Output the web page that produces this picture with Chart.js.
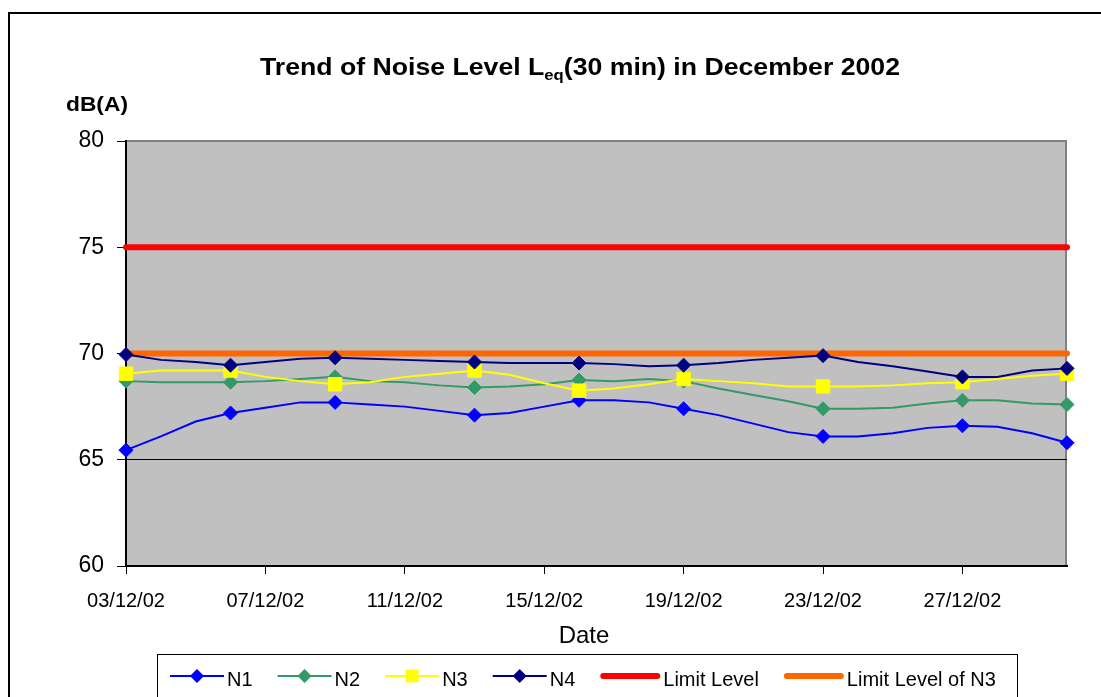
<!DOCTYPE html>
<html>
<head>
<meta charset="utf-8">
<title>Trend of Noise Level</title>
<script src="https://cdn.jsdelivr.net/npm/chart.js@4.4.0/dist/chart.umd.min.js"></script>
<style>
    html, body { margin: 0; padding: 0; background: #fff; }
    #wrap { width: 1101px; height: 697px; }
</style>
</head>
<body>
<div id="wrap"><canvas id="noise-chart" width="1101" height="697"></canvas></div>
<script>
// Day of December 2002 for each reading
var days = [3, 4, 5, 6, 7, 8, 9, 10, 11, 12, 13, 14, 15, 16, 17, 18, 19, 20, 21, 22, 23, 24, 25, 26, 27, 28, 29, 30];
// days that carry a marker, and days that get a tick label
var markerDays = [3, 6, 9, 13, 16, 19, 23, 27, 30];
var tickDays = [3, 7, 11, 15, 19, 23, 27];

// Leq(30 min), dB(A)
var n1 = [65.45, 66.1, 66.8, 67.2, 67.45, 67.7, 67.7, 67.6, 67.5, 67.3, 67.1, 67.2, 67.5, 67.8, 67.8, 67.7, 67.4, 67.1, 66.7, 66.3, 66.1, 66.1, 66.25, 66.5, 66.6, 66.55, 66.25, 65.8];
var n2 = [68.7, 68.65, 68.65, 68.65, 68.7, 68.8, 68.9, 68.7, 68.65, 68.5, 68.4, 68.45, 68.55, 68.75, 68.7, 68.8, 68.7, 68.35, 68.05, 67.75, 67.4, 67.4, 67.45, 67.65, 67.8, 67.8, 67.65, 67.6];
var n3 = [69.05, 69.2, 69.2, 69.2, 68.9, 68.7, 68.55, 68.65, 68.9, 69.05, 69.2, 69.0, 68.6, 68.25, 68.35, 68.55, 68.8, 68.7, 68.6, 68.45, 68.45, 68.45, 68.5, 68.6, 68.65, 68.8, 68.95, 69.05];
var n4 = [69.95, 69.7, 69.6, 69.45, 69.6, 69.75, 69.8, 69.75, 69.7, 69.65, 69.6, 69.55, 69.55, 69.55, 69.5, 69.4, 69.45, 69.55, 69.7, 69.8, 69.9, 69.6, 69.4, 69.15, 68.9, 68.9, 69.2, 69.3];

// Limit lines
var limitDays = [3, 30];
var limitLevel = [75, 75];
var limitLevelN3 = [70, 70];

var yMin = 60, yMax = 80, yStep = 5;

var FONT = '"Liberation Sans", Arial, sans-serif';

function toPoints(xs, ys) {
    return xs.map(function (x, i) { return { x: x, y: ys[i] }; });
}

function markerRadius(r) {
    return days.map(function (d) { return markerDays.indexOf(d) >= 0 ? r : 0; });
}

function pad2(v) {
    return (v < 10 ? '0' : '') + v;
}

function seriesSet(label, values, color, style, r, order) {
    return {
        label: label,
        data: toPoints(days, values),
        borderColor: color,
        borderWidth: 2,
        pointStyle: style,
        pointRadius: markerRadius(r),
        pointBackgroundColor: color,
        pointBorderColor: color,
        pointBorderWidth: 1,
        tension: 0,
        clip: false,
        order: order
    };
}

function limitSet(label, values, color, order) {
    return {
        label: label,
        data: toPoints(limitDays, values),
        borderColor: color,
        borderWidth: 6,
        borderCapStyle: 'round',
        pointRadius: 0,
        clip: false,
        order: order
    };
}

// draw a legend marker by hand
function drawMarker(ctx, style, x, y, r, color) {
    ctx.fillStyle = color;
    ctx.beginPath();
    if (style === 'rect') {
        var s = r * Math.SQRT1_2;
        ctx.rect(x - s, y - s, 2 * s, 2 * s);
    } else {
        ctx.moveTo(x - r, y);
        ctx.lineTo(x, y - r);
        ctx.lineTo(x + r, y);
        ctx.lineTo(x, y + r);
        ctx.closePath();
    }
    ctx.fill();
}

// Frame, plot background, titles and the boxed legend
var decorPlugin = {
    id: 'decor',
    beforeDraw: function (chart) {
        var ctx = chart.ctx, a = chart.chartArea;
        ctx.save();
        ctx.fillStyle = '#fff';
        ctx.fillRect(0, 0, chart.width, chart.height);
        ctx.strokeStyle = '#000';
        ctx.lineWidth = 2;
        ctx.strokeRect(9, 13, chart.width + 20, chart.height + 20);
        ctx.fillStyle = '#c0c0c0';
        ctx.fillRect(a.left, a.top, a.right - a.left, a.bottom - a.top);
        ctx.strokeStyle = '#808080';
        ctx.lineWidth = 2;
        ctx.beginPath();
        ctx.moveTo(a.left, a.top);
        ctx.lineTo(a.right - 1, a.top);
        ctx.lineTo(a.right - 1, a.bottom);
        ctx.stroke();
        ctx.restore();
    },
    afterDraw: function (chart) {
        var ctx = chart.ctx;
        ctx.save();
        ctx.fillStyle = '#000';
        ctx.textBaseline = 'alphabetic';

        // Title with subscript "eq"
        var big = 'bold 24px ' + FONT, small = 'bold 15px ' + FONT;
        var p1 = 'Trend of Noise Level L', p2 = 'eq', p3 = '(30 min) in December 2002';
        ctx.font = big;
        var w1 = ctx.measureText(p1).width, w3 = ctx.measureText(p3).width;
        ctx.font = small;
        var w2 = ctx.measureText(p2).width;
        var total = w1 + w2 + w3;
        var sx = 640 / total;
        ctx.save();
        ctx.translate(580 - total * sx / 2, 75);
        ctx.scale(sx, 1);
        ctx.font = big;
        ctx.fillText(p1, 0, 0);
        ctx.font = small;
        ctx.fillText(p2, w1, 5);
        ctx.font = big;
        ctx.fillText(p3, w1 + w2, 0);
        ctx.restore();

        // Unit label
        ctx.save();
        ctx.font = 'bold 21px ' + FONT;
        var wu = ctx.measureText('dB(A)').width;
        ctx.translate(66, 111);
        ctx.scale(62 / wu, 1);
        ctx.fillText('dB(A)', 0, 0);
        ctx.restore();

        // Axis title
        ctx.font = '24px ' + FONT;
        ctx.textAlign = 'center';
        ctx.fillText('Date', 584, 643);
        ctx.textAlign = 'left';

        // Legend box
        ctx.strokeStyle = '#000';
        ctx.lineWidth = 1;
        ctx.strokeRect(157.5, 654.5, 860, 60);

        ctx.font = '20px ' + FONT;
        var x = 170, ly = 676;
        chart.data.datasets.forEach(function (ds) {
            var thick = ds.borderWidth > 3;
            var len = thick ? 60 : 54;
            ctx.strokeStyle = ds.borderColor;
            ctx.lineWidth = ds.borderWidth;
            ctx.lineCap = thick ? 'round' : 'butt';
            ctx.beginPath();
            ctx.moveTo(x + (thick ? 3 : 0), ly);
            ctx.lineTo(x + len - (thick ? 3 : 0), ly);
            ctx.stroke();
            if (!thick) {
                drawMarker(ctx, ds.pointStyle, x + len / 2, ly, ds.pointStyle === 'rect' ? 9 : 7, ds.borderColor);
            }
            ctx.fillStyle = '#000';
            ctx.fillText(ds.label, x + len + 3, 686);
            x += len + 3 + ctx.measureText(ds.label).width + 25;
        });
        ctx.restore();
    }
};

var ctx1 = document.getElementById('noise-chart').getContext('2d');
var noiseChart = new Chart(ctx1, {
    type: 'line',
    data: {
        datasets: [
            seriesSet('N1', n1, '#0000ff', 'rectRot', 7, 3),
            seriesSet('N2', n2, '#339966', 'rectRot', 7, 2),
            seriesSet('N3', n3, '#ffff00', 'rect', 9.5, 1),
            seriesSet('N4', n4, '#000080', 'rectRot', 7, 0),
            limitSet('Limit Level', limitLevel, '#ff0000', 5),
            limitSet('Limit Level of N3', limitLevelN3, '#ff6600', 4)
        ]
    },
    options: {
        responsive: false,
        animation: false,
        events: [],
        layout: { padding: { top: 141, right: 34, bottom: 0, left: 0 } },
        plugins: {
            legend: { display: false },
            title: { display: false },
            tooltip: { enabled: false }
        },
        scales: {
            x: {
                type: 'linear',
                min: days[0],
                max: days[days.length - 1],
                afterBuildTicks: function (scale) {
                    scale.ticks = tickDays.map(function (d) { return { value: d }; });
                },
                afterFit: function (scale) { scale.height = 131; },
                ticks: {
                    autoSkip: false,
                    maxRotation: 0,
                    padding: 15,
                    color: '#000',
                    font: { family: FONT, size: 20 },
                    callback: function (v) { return pad2(v) + '/12/02'; }
                },
                grid: { drawOnChartArea: false, color: '#000', tickLength: 8, lineWidth: 1 },
                border: { color: '#000', width: 2 }
            },
            y: {
                type: 'linear',
                min: yMin,
                max: yMax,
                afterFit: function (scale) { scale.width = 126; },
                ticks: {
                    stepSize: yStep,
                    padding: 13,
                    color: '#000',
                    font: { family: FONT, size: 23 }
                },
                grid: {
                    color: function (c) { return c.tick && c.tick.value === yMax ? 'rgba(0,0,0,0)' : '#000'; },
                    tickColor: '#000',
                    tickLength: 9,
                    lineWidth: 1
                },
                border: { color: '#000', width: 2 }
            }
        }
    },
    plugins: [decorPlugin]
});
</script>
</body>
</html>
